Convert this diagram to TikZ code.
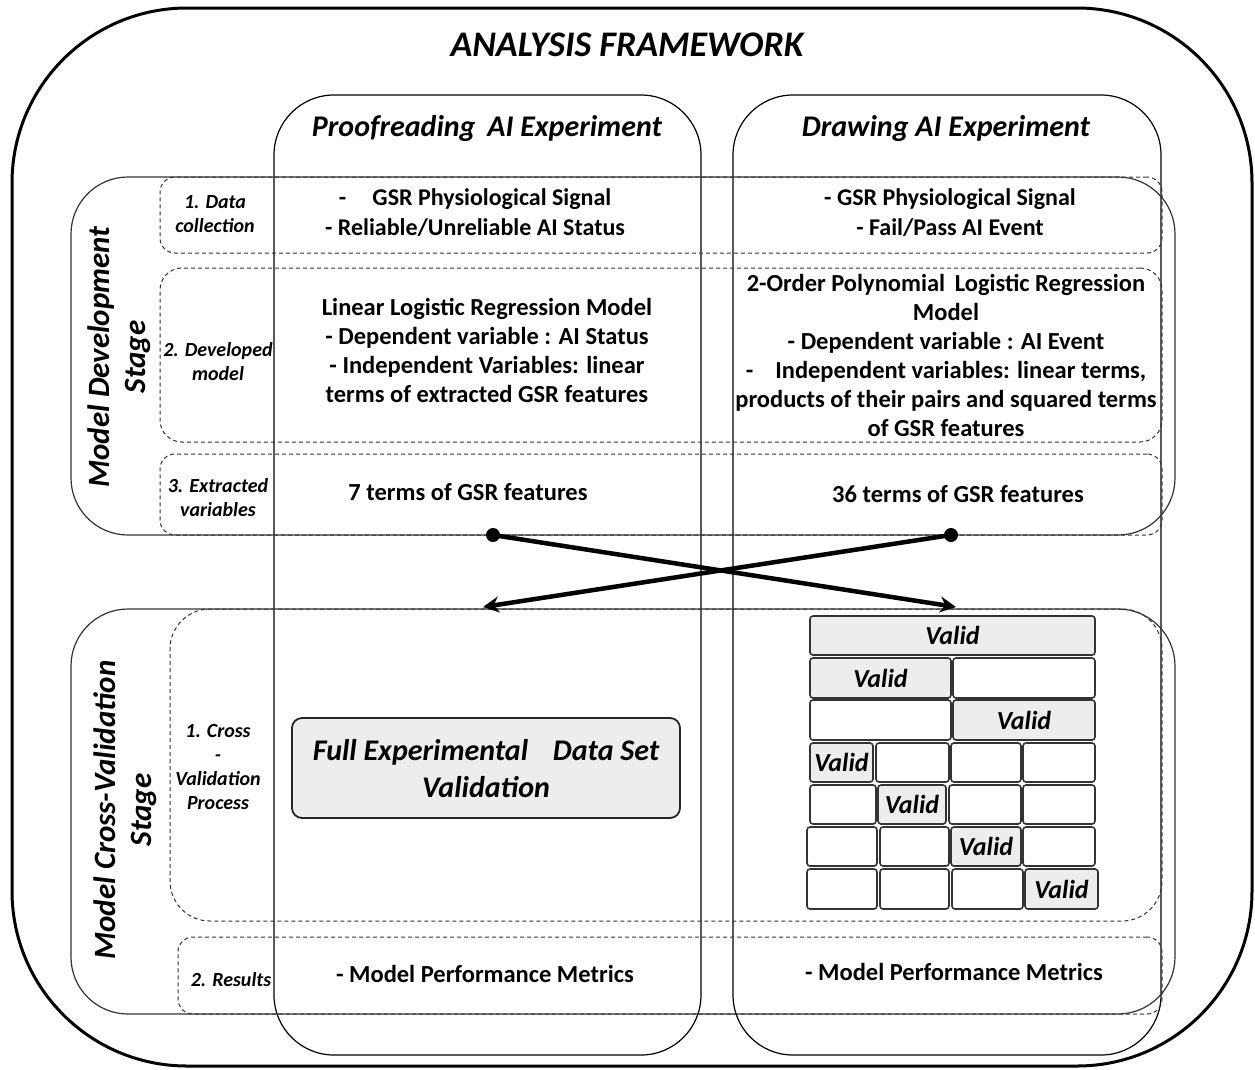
\documentclass[tikz,border=0pt]{standalone}
\usepackage{fontspec}
\setmainfont{Carlito}
\usetikzlibrary{fit,arrows.meta}
\begin{document}
\begin{tikzpicture}[x=1pt,y=-1pt,
  frame/.style={draw=black, line width=3pt, inner sep=0pt, rounded corners=175pt},
  column/.style={draw=black, line width=1.2pt, inner sep=0pt, rounded corners=60pt},
  stagebox/.style={draw=black!80, line width=1.2pt, inner sep=0pt, rounded corners=57pt},
  rowbox/.style={draw=black!80, line width=1pt, dash pattern=on 4pt off 3pt, inner sep=0pt, rounded corners=#1},
  rowbox/.default=15pt,
  content/.style={font=\fontsize{24.5}{29}\selectfont\bfseries, align=center, inner sep=0pt},
  rowlabel/.style={font=\fontsize{20}{24}\selectfont\bfseries\itshape, align=center, inner sep=0pt},
  stagelabel/.style={font=\fontsize{31}{36}\selectfont\bfseries\itshape, align=center, inner sep=0pt, rotate=90},
  coltitle/.style={font=\fontsize{30}{34}\selectfont\bfseries\itshape, inner sep=0pt},
  cell/.style={draw=black!80, line width=1.6pt, rounded corners=3pt, inner sep=0pt},
  vcell/.style={cell, fill=black!7},
  celltext/.style={font=\fontsize{26}{30}\selectfont\bfseries\itshape, inner sep=0pt},
  dot/.style={circle, fill=black, inner sep=0pt, minimum size=14pt},
  bigarrow/.style={line width=4.5pt, -{Stealth[length=16pt,width=16pt]}}
]
\useasboundingbox (0,0) rectangle (1255,1069);

% outer frame
\node[frame, fit={(12,8) (1252,1066)}] (fw) {};
\node[font=\fontsize{36}{40}\selectfont\bfseries\itshape, inner sep=0pt] (title) at (627,45) {ANALYSIS FRAMEWORK};

% columns
\node[column, fit={(274,95) (701,1055)}] (pcol) {};
\node[column, fit={(733,95) (1161,1055)}] (dcol) {};
\node[coltitle] (ptitle) at (487,128) {Proofreading\, AI Experiment};
\node[coltitle] (dtitle) at (946,128) {Drawing AI Experiment};

% stages
\node[stagebox, fit={(71,177) (1175,535)}] (dev) {};
\node[stagebox, fit={(71,609) (1175,1014)}] (cv) {};
\node[stagelabel] (devlab) at (119,357) {Model Development\\Stage};
\node[stagelabel] (cvlab) at (125,810) {Model Cross-Validation\\Stage};

% dashed rows
\node[rowbox=15pt, fit={(160,177) (1162,253)}] (r1) {};
\node[rowbox=22pt, fit={(160,268) (1162,442)}] (r2) {};
\node[rowbox=15pt, fit={(160,454) (1162,535)}] (r3) {};
\node[rowbox=40pt, fit={(170,609) (1162,921)}] (c1) {};
\node[rowbox=15pt, fit={(178,937) (1162,1014)}] (c2) {};

% row labels
\node[rowlabel] (l1) at (215,214) {1. Data\\collection};
\node[rowlabel] (l2) at (218,362) {2. Developed\\model};
\node[rowlabel] (l3) at (218,498) {3. Extracted\\variables};
\node[rowlabel] (l4) at (218,767) {1. Cross\\-\\Validation\\Process};
\node[rowlabel] (l5) at (231,980) {2. Results};

% contents
\node[content, font=\fontsize{24}{30}\selectfont\bfseries] (t1l) at (475,213) {-\hspace{1.1em}GSR Physiological Signal\\- Reliable/Unreliable AI Status};
\node[content, font=\fontsize{24}{30}\selectfont\bfseries] (t1r) at (950,213) {- GSR Physiological Signal\\- Fail/Pass AI Event};
\node[content] (t2l) at (487,350) {Linear Logistic Regression Model\\- Dependent variable : AI Status\\- Independent Variables: linear\\terms of extracted GSR features};
\node[content] (t2r) at (946,355) {2-Order Polynomial\, Logistic Regression\hspace{1em}\\Model\\- Dependent variable : AI Event\\-\hspace{0.9em}Independent variables: linear terms,\hspace{1em}\\products of their pairs and squared terms\\of GSR features};
\node[content] (t3l) at (468,492) {7 terms of GSR features};
\node[content] (t3r) at (958,494) {36 terms of GSR features};
\node[content] (t5l) at (485,974) {- Model Performance Metrics};
\node[content] (t5r) at (954,972) {- Model Performance Metrics};

% full data set box
\node[draw=black!85, line width=1.8pt, rounded corners=10pt, fill=black!7, inner sep=0pt, fit={(292,718) (680,818)}] (full) {};
\node[font=\fontsize{30}{37}\selectfont\bfseries\itshape, align=center, inner sep=0pt] (fulltxt) at (486,769) {Full Experimental\hspace{0.6em} Data Set\\Validation};

% k-fold grid
\node[vcell, fit={(810,616) (1095,655)}] (g11) {};
\node[vcell, fit={(810,658) (951,698)}] (g21) {};
\node[cell, fit={(953,658) (1095,698)}] (g22) {};
\node[cell, fit={(810,700) (951,740)}] (g31) {};
\node[vcell, fit={(953,700) (1095,740)}] (g32) {};
\node[vcell, fit={(810,743) (873,782)}] (g41) {};
\node[cell, fit={(876,743) (949,782)}] (g42) {};
\node[cell, fit={(951,743) (1021,782)}] (g43) {};
\node[cell, fit={(1023,743) (1095,782)}] (g44) {};
\node[cell, fit={(810,785) (876,824)}] (g51) {};
\node[vcell, fit={(878,785) (946,824)}] (g52) {};
\node[cell, fit={(949,785) (1021,824)}] (g53) {};
\node[cell, fit={(1023,785) (1095,824)}] (g54) {};
\node[cell, fit={(807,827) (877,866)}] (g61) {};
\node[cell, fit={(880,827) (949,866)}] (g62) {};
\node[vcell, fit={(951,827) (1021,866)}] (g63) {};
\node[cell, fit={(1023,827) (1095,866)}] (g64) {};
\node[cell, fit={(807,869) (877,909)}] (g71) {};
\node[cell, fit={(880,869) (949,909)}] (g72) {};
\node[cell, fit={(952,869) (1023,909)}] (g73) {};
\node[vcell, fit={(1025,869) (1098,909)}] (g74) {};
\node[celltext] (v1) at (g11.center) {Valid};
\node[celltext] (v2) at (g21.center) {Valid};
\node[celltext] (v3) at (g32.center) {Valid};
\node[celltext] (v4) at (g41.center) {Valid};
\node[celltext] (v5) at (g52.center) {Valid};
\node[celltext] (v6) at (g63.center) {Valid};
\node[celltext] (v7) at (g74.center) {Valid};

% crossing arrows
\node[dot] (s1) at (493,535) {};
\node[dot] (s2) at (951,535) {};
\coordinate (e1) at (483,607);
\coordinate (e2) at (956,607);
\draw[bigarrow] (s1.center) -- (e2);
\draw[bigarrow] (s2.center) -- (e1);
\end{tikzpicture}
\end{document}
